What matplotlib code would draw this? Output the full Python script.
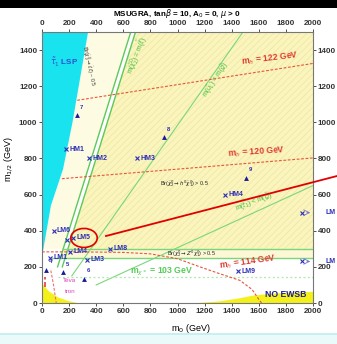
import matplotlib
matplotlib.use("Agg")
import matplotlib.pyplot as plt
from matplotlib.patches import Polygon, Ellipse, Rectangle
from matplotlib.lines import Line2D
import numpy as np

plt.rcParams['font.family'] = ['Liberation Sans', 'DejaVu Sans']
plt.rcParams['hatch.linewidth'] = 0.4
plt.rcParams['mathtext.fontset'] = 'dejavusans'

# ---------------- data ----------------
x_ticks = [0, 200, 400, 600, 800, 1000, 1200, 1400, 1600, 1800, 2000]
y_ticks = [0, 200, 400, 600, 800, 1000, 1200, 1400]

# stau LSP boundary (m0, m1/2)
cyan_m0 = [0, 15, 66, 155, 225, 340]
cyan_m12 = [250, 320, 540, 740, 1000, 1500]

# low-m0 theoretically excluded (yellow, bottom-left) and NO EWSB
low_m0 = [0, 0, 50, 120, 200, 260]
low_m12 = [0, 110, 65, 30, 10, 0]
ewsb_m0 = [1150, 1300, 1450, 1550, 1700, 2000, 2000]
ewsb_m12 = [0, 8, 25, 40, 52, 62, 0]

# Higgs mass contours
mh114_m0 = [0, 200, 400, 600, 800, 1000, 1166, 1300, 1461, 1550, 1600, 1620]
mh114_m12 = [283, 283, 282, 280, 272, 245, 200, 165, 125, 75, 20, 0]
mh120_m0 = [147, 2000]
mh120_m12 = [688, 803]
mh122_m0 = [260, 2000]
mh122_m12 = [1122, 1326]

# green kinematic lines
dbl_m0 = [115, 655]          # m(chi2) = m(slepton), double line
dbl_m12 = [200, 1500]
dbl_offset = 35
ug_m0 = [220, 1483]          # m(uL) = m(gluino)
ug_m12 = [150, 1500]
tg_m0 = [400, 2000]          # m(t1) = m(gluino)
tg_m12 = [100, 650]
brz_m12 = [300, 250]         # Br(chi2 -> Z chi1) band edges
chargino_m12 = 145           # m_chi+- = 103 GeV

# Tevatron limits
tev1_m0 = [22, 22]
tev1_m12 = [90, 145]
tev2_m0 = [65, 85, 105]
tev2_m12 = [180, 100, 0]

# benchmark points
lm_names = ['LM1', 'LM2', 'LM3', 'LM4', 'LM5', 'LM6', 'LM8', 'LM9']
lm_m0 = [60, 185, 330, 210, 230, 85, 500, 1450]
lm_m12 = [250, 350, 240, 285, 360, 400, 300, 175]
lm_show = [True, False, True, True, True, True, True, True]
lm_off_names = ['LM', 'LM']
lm_off_m12 = [500, 230]
hm_names = ['HM1', 'HM2', 'HM3', 'HM4']
hm_m0 = [180, 350, 700, 1350]
hm_m12 = [850, 800, 800, 600]
tri_names = ['4', '5', '6', '7', '8', '9']
tri_m0 = [28, 155, 310, 258, 900, 1506]
tri_m12 = [185, 172, 135, 1040, 919, 693]

# ---------------- figure ----------------
W, H = 337, 344
fig = plt.figure(figsize=(W / 100, H / 100), dpi=100)
fig.patch.set_facecolor('white')
# top black band and bottom cyan band
fig.add_artist(Rectangle((0, 1 - 8 / H), 1, 8 / H, transform=fig.transFigure,
                         facecolor='black', edgecolor='none'))
fig.add_artist(Rectangle((0, 0), 1, 10 / H, transform=fig.transFigure,
                         facecolor='#eafafa', edgecolor='none'))
fig.add_artist(Line2D([0, 1], [10 / H, 10 / H], transform=fig.transFigure,
                      color='#bfeeee', lw=1.2))

ax = fig.add_axes([42 / W, 1 - 303 / H, (313 - 42) / W, (303 - 32) / H])
ax.set_xlim(0, 2000)
ax.set_ylim(0, 1500)
ax.set_facecolor('white')

def xd(y, off=0):
    return dbl_m0[0] + off + (dbl_m0[1] - dbl_m0[0]) * (y - dbl_m12[0]) / (dbl_m12[1] - dbl_m12[0])

# pale region between cyan and double line
pale = [(np.interp(300, cyan_m12, cyan_m0), 300)] + \
       [(a, b) for a, b in zip(cyan_m0, cyan_m12) if b > 300] + \
       [(xd(1500), 1500), (xd(300), 300)]
ax.add_patch(Polygon(pale, closed=True, facecolor='#fdfbe2', edgecolor='none', zorder=0))
# main yellow region
ya = [(xd(300, dbl_offset), 300), (2000, 300), (2000, 1500), (xd(1500, dbl_offset), 1500)]
ax.add_patch(Polygon(ya, closed=True, facecolor='#faf4bd', edgecolor='#ede29c',
                     hatch='/////', lw=0, zorder=0))
# band between Z lines
band = [(xd(250), 250), (2000, 250), (2000, 300), (xd(300), 300)]
ax.add_patch(Polygon(band, closed=True, facecolor='#fcf8d6', edgecolor='none', zorder=0))

# cyan LSP region
cy = list(zip(cyan_m0, cyan_m12)) + [(0, 1500)]
ax.add_patch(Polygon(cy, closed=True, facecolor='#19e3ef', edgecolor='none', zorder=1))
# yellow excluded regions
ax.add_patch(Polygon(list(zip(low_m0, low_m12)), closed=True, facecolor='#f4f01c',
                     edgecolor='none', zorder=1))
ax.add_patch(Polygon(list(zip(ewsb_m0, ewsb_m12)), closed=True, facecolor='#f4f01c',
                     edgecolor='none', zorder=1))

gcol = '#7bd67b'
# double line
ax.plot([xd(dbl_m12[0]), xd(dbl_m12[1])], dbl_m12, color='#5cc95c', lw=1.0, zorder=2)
ax.plot([xd(dbl_m12[0], dbl_offset), xd(dbl_m12[1], dbl_offset)], dbl_m12, color='#5cc95c', lw=1.0, zorder=2)
ax.plot(ug_m0, ug_m12, color=gcol, lw=0.8, zorder=2)
ax.plot(tg_m0, tg_m12, color=gcol, lw=0.8, zorder=2)
ax.plot([xd(brz_m12[0]), 2000], [brz_m12[0]] * 2, color=gcol, lw=1.0, zorder=2)
ax.plot([xd(brz_m12[1]) - 60, 2000], [brz_m12[1]] * 2, color=gcol, lw=1.0, zorder=2)
ax.plot([120, 2000], [chargino_m12] * 2, color='#a8e8a8', lw=0.9, ls=(0, (1.5, 2)), zorder=2)

rcol = '#e8563c'
for xs, ys in [(mh114_m0, mh114_m12), (mh120_m0, mh120_m12), (mh122_m0, mh122_m12)]:
    ax.plot(xs, ys, color=rcol, lw=0.8, ls=(0, (2.5, 1.5)), zorder=2)
ax.plot(tev1_m0, tev1_m12, color='#e04040', lw=1.2, ls=(0, (3, 1.5)), zorder=2)
ax.plot(tev2_m0, tev2_m12, color='#f07070', lw=0.8, ls=(0, (2.5, 1.5)), zorder=2)

bcol = '#2d2db8'
tkw = dict(color=bcol, fontsize=5, fontweight='bold', va='center', zorder=4)
for n, x, y, s in zip(lm_names, lm_m0, lm_m12, lm_show):
    ax.plot(x, y, marker='x', color=bcol, ms=2.5, mew=0.8, zorder=4)
    if s:
        ax.text(x + 25, y, n, **tkw)
for n, x, y in zip(hm_names, hm_m0, hm_m12):
    ax.plot(x, y, marker='x', color=bcol, ms=2.5, mew=0.8, zorder=4)
    ax.text(x + 25, y, n, **tkw)
for n, x, y in zip(tri_names, tri_m0, tri_m12):
    ax.plot(x, y, marker='^', color='#1a1a9c', ms=3.5, mew=0, zorder=4)
    ax.text(x + 20, y + 35, n, color=bcol, fontsize=4.2, fontweight='bold', zorder=4)
for n, y in zip(lm_off_names, lm_off_m12):
    ax.plot(1920, y, marker='x', color=bcol, ms=2.5, mew=0.8, zorder=4)
    ax.annotate('', xy=(2000, y), xytext=(1935, y),
                arrowprops=dict(arrowstyle='->', color='#7070d0', lw=0.6), zorder=4)
    ax.text(2095, y, n, clip_on=False, **tkw)

# labels
ax.text(60, 1330, r'$\tilde{\tau}_1$ LSP', color='#2a4fd0', fontsize=5.8, fontweight='bold', va='center')
ax.text(340, 1310, r'Br($\tilde{\chi}^0_2\rightarrow\tilde{\ell}\,\ell$) ~ 0.5', fontsize=3.8,
        color='#333333', rotation=-78, ha='center', va='center', rotation_mode='anchor')
ax.text(700, 1370, r'm($\tilde{\chi}^0_2$) = m($\tilde{\ell}$)', fontsize=4.8, color='#3cbf3c',
        rotation=68, ha='center', va='center', rotation_mode='anchor')
ax.text(1285, 1238, r'm($\tilde{u}_L$) = m($\tilde{g}$)', fontsize=4.8, color='#3cbf3c',
        rotation=57, ha='center', va='center', rotation_mode='anchor')
ax.text(1560, 560, r'm($\tilde{t}_1$) < m($\tilde{g}$)', fontsize=4.8, color='#3cbf3c',
        rotation=21, ha='center', va='center', rotation_mode='anchor')
ax.text(1050, 660, r'Br($\tilde{\chi}^0_2\rightarrow h^0\tilde{\chi}^0_1$) > 0.5', fontsize=3.9,
        color='#222222', ha='center', va='center')
ax.text(1100, 276, r'Br($\tilde{\chi}^0_2\rightarrow Z^0\tilde{\chi}^0_1$) > 0.5', fontsize=3.9,
        color='#222222', ha='center', va='center')
ax.text(1680, 1350, r'm$_h$ = 122 GeV', fontsize=6.2, color='#e03a30', fontweight='bold',
        rotation=7, ha='center', va='center')
ax.text(1580, 835, r'm$_h$ = 120 GeV', fontsize=6.2, color='#e03a30', fontweight='bold',
        rotation=4, ha='center', va='center')
ax.text(1520, 228, r'm$_h$ = 114 GeV', fontsize=6.2, color='#e03a30', fontweight='bold',
        rotation=8, ha='center', va='center')
ax.text(880, 170, r'm$_{\chi^\pm}$ = 103 GeV', fontsize=6.2, color='#55cc55', fontweight='bold',
        ha='center', va='center')
ax.text(1800, 46, 'NO EWSB', fontsize=6.2, color='#1a1a9c', fontweight='bold',
        ha='center', va='center')
ax.text(205, 125, 'Teva', fontsize=4.5, color='#e040c0', ha='center', va='center')
ax.text(205, 62, 'tron', fontsize=4.5, color='#e040c0', ha='center', va='center')

# ticks / labels
ax.set_xticks(x_ticks)
ax.set_yticks(y_ticks)
ax.tick_params(axis='both', labelsize=5.8, length=2, width=0.6, colors='#333333',
               top=True, right=True, labeltop=True, labelright=True, pad=1.5)
for lab in ax.get_xticklabels() + ax.get_yticklabels():
    lab.set_fontweight('bold')
for sp in ax.spines.values():
    sp.set_color('#777777')
    sp.set_linewidth(0.8)
ax.set_xlabel(r'm$_0$ (GeV)', fontsize=6.5, labelpad=5)
ax.xaxis.set_label_coords(0.55, -0.07)
ax.set_ylabel(r'm$_{1/2}$ (GeV)', fontsize=6.5, labelpad=3)
ax.yaxis.set_label_coords(-0.10, 0.53)
fig.text(177 / W, 1 - 13 / H, r'MSUGRA, tan$\beta$ = 10, A$_0$ = 0, $\mu$ > 0',
         fontsize=5.8, fontweight='bold', ha='center', va='center')

# red ellipse around LM5 and pointer line
ax.add_patch(Ellipse((310, 360), 195, 105, facecolor='none', edgecolor='#e00000', lw=1.2,
                     zorder=5, clip_on=False))
fig.add_artist(Line2D([106 / W, 1.0], [1 - 236 / H, 1 - 176 / H], transform=fig.transFigure,
                      color='#e00000', lw=1.3))

fig.savefig('out.png', dpi=100)
